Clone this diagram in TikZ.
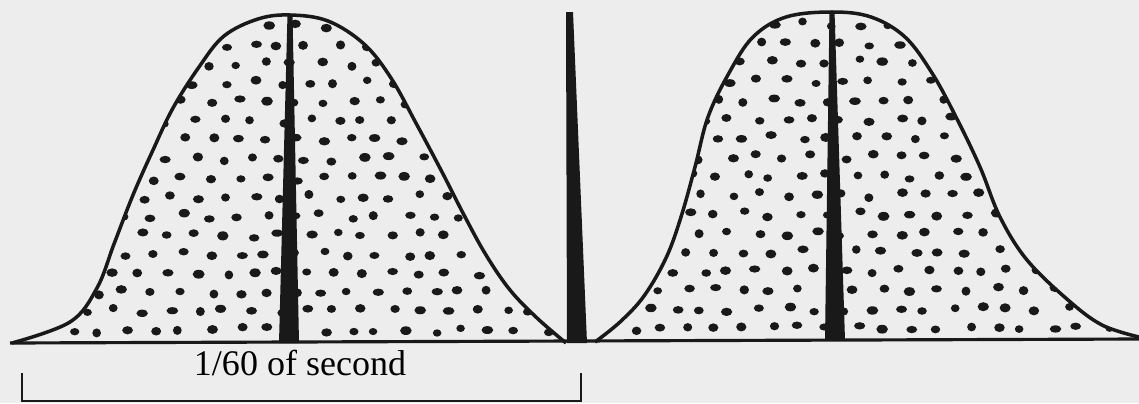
\documentclass[tikz,border=0pt]{standalone}
\usepackage{fontspec}
\setmainfont{Liberation Serif}

\begin{document}
\begin{tikzpicture}[x=0.02cm, y=-0.02cm]
    \def\w{2pt}
    \def\leftbell{plot[smooth, tension=0.6] coordinates {(12,343) (70,322) (97,288) (114,244) (133,195) (153,150) (173,108) (199,67) (224,36) (258,19) (290,15) (328,21) (364,44) (391,78) (417,125) (442,172) (464,215) (486,255) (510,290) (537,318) (566,343)}}
    \def\rightbell{plot[smooth, tension=0.6] coordinates {(595,342) (620,322) (644,296) (666,258) (681,217) (695,167) (708,117) (729,73) (753,37) (786,17) (832,12) (871,17) (905,37) (932,73) (956,117) (980,167) (1000,217) (1027,260) (1068,300) (1102,325) (1139,337)}}

    \fill[black!7] (0,0) rectangle (1139,403);
    \useasboundingbox (0,0) rectangle (1139,403);

    % stipple inside both bells
    \pgfmathsetseed{11}
    \begin{scope}
        \clip \leftbell;
        \foreach \y [count=\i] in {26,45,...,340}
            \foreach \x in {0,28,...,580}
                \fill[black!90] ({\x + 14*mod(\i,2) + 5*rand},{\y + 3*rand}) ellipse ({2.9pt + 0.5pt*rand} and {2.3pt + 0.3pt*rand});
    \end{scope}
    \begin{scope}
        \clip \rightbell;
        \foreach \y [count=\i] in {24,43,...,340}
            \foreach \x in {590,618,...,1139}
                \fill[black!90] ({\x + 14*mod(\i,2) + 5*rand},{\y + 3*rand}) ellipse ({2.9pt + 0.5pt*rand} and {2.3pt + 0.3pt*rand});
    \end{scope}

    \draw[line width=\w, black!90] \leftbell;
    \draw[line width=\w, black!90] \rightbell;

    % peak lines and the middle mark
    \fill[black!90] (287.5,14) -- (292.5,14) -- (299,343) -- (279,343) -- cycle;
    \fill[black!90] (566,12) -- (573,12) -- (587,343) -- (567,343) -- cycle;
    \fill[black!90] (829.5,11) -- (834.5,11) -- (845,340) -- (825,340) -- cycle;

    \draw[line width=1.8pt, black!90] (10,343) -- (1139,339);

    % bracket
    \coordinate (bl) at (22,373);
    \coordinate (br) at (581,373);
    \draw[line width=1.1pt, black!90] (bl) -- (bl |- 0,401) -- (br |- 0,401) -- (br);
    \node (span) [anchor=base, font=\fontsize{20.5}{24}\selectfont] at (300,375) {1/60 of second};
\end{tikzpicture}
\end{document}
